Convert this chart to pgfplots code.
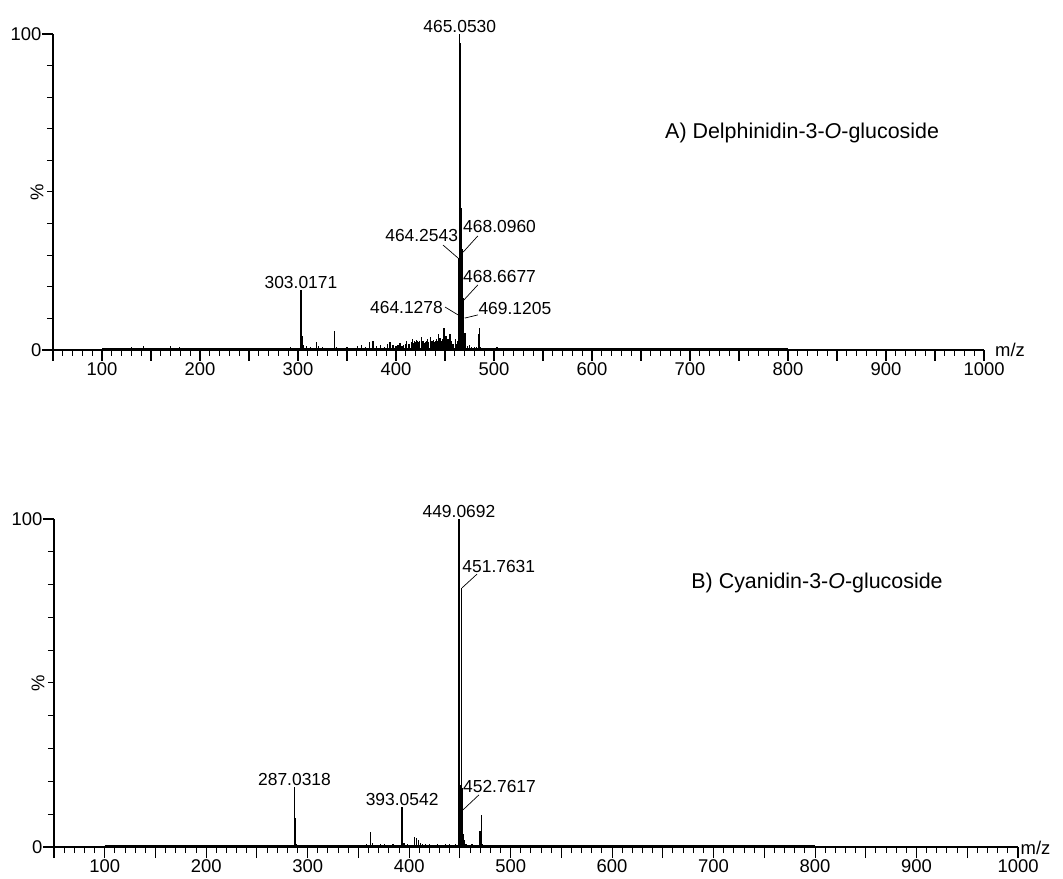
\documentclass[border=0pt]{standalone}
\usepackage{fontspec}
\setmainfont{Liberation Sans}
\usepackage{pgfplots}
\pgfplotsset{compat=1.18}

\pgfplotstableread{
x y
100 0.3
108 0.4
115 0.3
121 0.5
130 0.9
136 0.4
142 1.2
150 0.4
157 0.5
163 0.3
170 1.2
173 0.7
179 1.0
185 0.4
192 0.5
198 0.3
205 0.4
210 0.7
217 0.4
224 0.5
231 0.5
235 0.6
241 0.4
248 0.6
255 0.3
262 0.5
267 0.4
274 0.6
280 0.4
286 0.5
292 0.9
297 0.5
303.0171 19.0
304.0 4.3
305 1.5
309 1.2
313 0.8
319 2.5
321 1.2
325 0.8
331 0.6
337 6.0
339 1.0
345 0.6
350 0.8
356 0.5
361 1.2
365 1.5
369 1.0
373 2.5
376.5 3.0
380 1.4
384 1.6
388 1.0
391 1.8
394 2.5
397 1.5
400 1.2
402 1.6
404 2.2
406 1.4
408 1.5
410 2.0
411 2.8
413 1.8
414 2.0
416 2.6
417 3.5
418 2.2
419 2.8
420 2.4
421 3.2
422 2.7
423 2.5
424 3.0
426 4.0
427 2.8
428 3.0
429 2.2
430 2.6
431 3.0
432 3.5
433 2.4
435 4.2
436 2.8
437 3.0
438 3.2
439 2.5
440 3.0
441 3.6
442 2.8
443 5.0
444 3.4
445 3.8
446 2.6
447 3.0
448 3.5
449 7.0
450 3.2
451 4.5
452 2.8
453 3.5
454 2.4
455 5.0
456 2.6
457 3.0
458 1.8
459 2.0
460.5 3.5
461.5 2.0
462.5 3.0
463.6 8.0
464.1278 11.0
464.2543 29.0
464.6 61.0
465.0530 100.0
465.4 97.0
465.8 61.0
466.2 45.0
466.7 36.0
467.2 33.0
467.6 32.0
468.0960 31.0
468.6677 16.5
469.1205 9.5
469.7 5.0
470.3 5.3
471 2.0
473 1.2
475 1.5
477 1.0
480 0.8
482 1.0
484 5.0
485 7.0
486 1.0
490 0.6
495 0.5
503 0.8
510 0.4
518 0.5
525 0.3
533 0.4
540 0.3
548 0.4
556 0.5
563 0.3
570 0.4
578 0.3
585 0.4
592 0.3
600 0.6
608 0.3
615 0.4
623 0.3
630 0.5
638 0.4
645 0.3
653 0.5
660 0.3
668 0.4
675 0.3
683 0.4
690 0.3
698 0.4
705 0.3
713 0.4
720 0.3
728 0.4
735 0.3
743 0.4
750 0.3
758 0.3
765 0.4
773 0.3
780 0.3
790 0.4
796 0.3
}\spectrumA

\pgfplotstableread{
x y
100 0.3
110 0.3
118 0.4
125 0.3
133 0.3
140 0.4
150 0.3
160 0.3
170 0.4
180 0.3
190 0.3
200 0.3
208 0.4
215 0.3
225 0.3
235 0.3
245 0.4
255 0.3
262 0.5
270 0.4
278 0.5
283 0.4
287.0318 18.2
288.0 8.8
289 1.0
295 0.4
300 0.3
308 0.5
315 0.6
320 0.4
328 0.5
335 0.4
340 0.5
346 0.4
352 0.6
358 0.8
362 4.6
364 1.2
367 0.6
372 0.8
376 1.0
380 0.7
384 0.8
389 0.6
393.0542 12.2
395 1.2
398 0.8
401 0.7
405 3.0
407 2.6
409 2.2
411 1.2
413 1.0
416 0.8
420 0.9
424 0.6
428 1.0
432 0.7
436 0.8
440 0.9
443 0.6
446 1.0
448.5 3.0
449.0692 100
449.6 27.0
450.1 19.0
450.6 19.0
451.2 19.0
451.7631 79.0
452.2 18.0
452.7617 12.0
453.3 4.0
454.0 2.0
456 1.0
459 0.6
462 0.8
466 0.6
469.8 5.0
471 9.8
472 1.0
476 0.6
480 0.5
486 0.7
490 0.4
497 0.3
505 0.3
515 0.4
525 0.3
535 0.3
545 0.3
555 0.3
565 0.3
575 0.3
585 0.3
595 0.3
605 0.3
615 0.3
625 0.3
635 0.3
645 0.3
655 0.3
665 0.3
675 0.3
685 0.3
695 0.3
705 0.3
715 0.3
725 0.3
735 0.3
745 0.3
755 0.3
765 0.3
775 0.3
785 0.3
795 0.3
}\spectrumB

\newcommand{\lblfont}{\fontsize{17.5}{20}\selectfont}
\newcommand{\tf}{\fontsize{18.5}{21}\selectfont}
\newcommand{\ttlfont}{\fontsize{21.5}{25}\selectfont}

\pgfplotsset{
  msaxis/.style={
    scale only axis,
    anchor=south west,
    axis x line=bottom, axis y line=left,
    axis line style={-, line width=1.2bp},
    xmin=50, xmax=1000, ymin=0, ymax=100,
    xtick={100,200,300,400,500,600,700,800,900,1000},
    xticklabels={100,200,300,400,500,600,700,800,900,1000},
    extra x ticks={50,150,250,350,450,550,650,750,850,950},
    extra x tick labels={},
    minor xtick={60,70,...,990},
    ytick={0,100},
    yticklabels={0,100},
    minor ytick={10,20,...,90},
    tick align=outside,
    major tick length=11bp,
    minor tick length=6bp,
    every tick/.style={line width=1.1bp, black},
    every minor tick/.style={line width=1.0bp, black},
    xticklabel style={font=\tf, inner sep=1bp, text=black},
    yticklabel style={font=\tf, inner sep=0.5bp, text=black},
    /pgf/number format/assume math mode=true,
    clip=false,
    scaled ticks=false,
  },
  spec/.style={ycomb, black, line width=1.25bp, mark=none},
  base/.style={black, line width=1.4bp, mark=none},
}

\begin{document}
\begin{tikzpicture}
\useasboundingbox (0bp,0bp) rectangle (1063bp,879bp);

% ---------- Panel A ----------
\begin{axis}[msaxis, at={(53bp,529bp)}, width=931bp, height=316bp]
\addplot[base] coordinates {(100,0.3) (800,0.3)};
\addplot[spec] table[x=x,y=y] {\spectrumA};
\node[anchor=south, inner sep=1.5bp, font=\lblfont] at (axis cs:465.05,100) {465.0530};
\node[anchor=south, inner sep=1.5bp, font=\lblfont] at (axis cs:303.02,19) {303.0171};
\node[anchor=base east, inner sep=0pt, font=\lblfont] at (axis cs:463.5,34.2) {464.2543};
\draw[line width=0.7bp] (axis cs:448,33.2) -- (axis cs:463.3,29.1);
\node[anchor=base west, inner sep=0pt, font=\lblfont] at (axis cs:468.4,37.2) {468.0960};
\draw[line width=0.7bp] (axis cs:483.5,36.1) -- (axis cs:468.6,31.0);
\node[anchor=base west, inner sep=0pt, font=\lblfont] at (axis cs:468.4,21.5) {468.6677};
\draw[line width=0.7bp] (axis cs:483.5,20.6) -- (axis cs:469.2,15.8);
\node[anchor=base east, inner sep=0pt, font=\lblfont] at (axis cs:448,11.7) {464.1278};
\draw[line width=0.7bp] (axis cs:450,13.6) -- (axis cs:463.3,11.1);
\node[anchor=base west, inner sep=0pt, font=\lblfont] at (axis cs:484,11.1) {469.1205};
\draw[line width=0.7bp] (axis cs:483.5,11.1) -- (axis cs:470.2,10.1);
\node[anchor=west, inner sep=0pt, font=\ttlfont] at (axis cs:674.5,68.7) {A) Delphinidin-3-\textit{O}-glucoside};
\node[anchor=west, inner sep=0pt, xshift=11bp] at (axis cs:1000,0) {\tf m/z};
\node[xshift=-16bp, rotate=90, inner sep=0pt] at (axis cs:50,50) {\tf \%};
\end{axis}

% ---------- Panel B ----------
\begin{axis}[msaxis, at={(54bp,32bp)}, width=964bp, height=328bp]
\addplot[base] coordinates {(100,0.3) (800,0.3)};
\addplot[spec] table[x=x,y=y] {\spectrumB};
\node[anchor=south, inner sep=1.5bp, font=\lblfont] at (axis cs:449.07,100) {449.0692};
\node[anchor=south, inner sep=1.5bp, font=\lblfont] at (axis cs:287.03,18.2) {287.0318};
\node[anchor=south, inner sep=1.5bp, font=\lblfont] at (axis cs:393.05,12.2) {393.0542};
\node[anchor=base west, inner sep=0pt, font=\lblfont] at (axis cs:452.3,83.8) {451.7631};
\draw[line width=0.7bp] (axis cs:466.9,83.2) -- (axis cs:452.1,79.0);
\node[anchor=base west, inner sep=0pt, font=\lblfont] at (axis cs:453.0,16.5) {452.7617};
\draw[line width=0.7bp] (axis cs:468.8,15.9) -- (axis cs:453.0,11.3);
\node[anchor=west, inner sep=0pt, font=\ttlfont] at (axis cs:678,80.5) {B) Cyanidin-3-\textit{O}-glucoside};
\node[anchor=west, inner sep=0pt, xshift=2.5bp, yshift=-1bp] at (axis cs:1000,0) {\tf m/z};
\node[xshift=-16bp, rotate=90, inner sep=0pt] at (axis cs:50,50) {\tf \%};
\end{axis}
\end{tikzpicture}
\end{document}
